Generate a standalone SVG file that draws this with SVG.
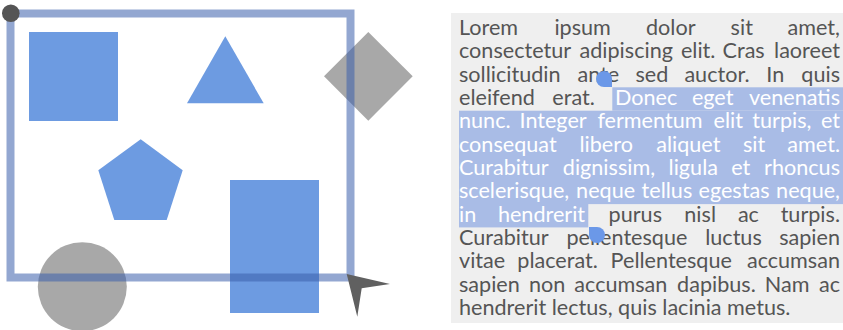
<svg xmlns="http://www.w3.org/2000/svg" width="843" height="330" viewBox="0 0 843 330">
<style>
.blue{fill:#6d9be1}
.gray{fill:#a8a8a8}
.t text{font-family:Lato,"Noto Sans","Liberation Sans",sans-serif;font-size:21.6px;fill:#555555}
.t .s{fill:#ffffff}
.t .e{text-anchor:end}
.hl{fill:#a9bce6}
.handle{fill:#6b98e8}
</style>
<rect width="843" height="330" fill="#ffffff"/>
<g id="canvas">
  <rect id="square" class="blue" x="29" y="32" width="89" height="89"/>
  <polygon id="triangle" class="blue" points="225.3,36.3 187,103.3 263.7,103.3"/>
  <polygon id="diamond" class="gray" points="368.3,32 412.7,76.3 368.3,120.7 324,76.3"/>
  <polygon id="pentagon" class="blue" points="140.7,139.3 182.7,170.3 166.7,220 114.3,220 98.3,170.3"/>
  <rect id="tall-rect" class="blue" x="230" y="180" width="89" height="133"/>
  <circle id="circle" class="gray" cx="82.3" cy="286.7" r="44.5"/>
  <rect id="selection" x="10.5" y="13.5" width="340" height="264" fill="none" stroke="#3a5fab" stroke-opacity="0.55" stroke-width="8"/>
  <circle id="corner-dot" cx="10.8" cy="13.3" r="8.8" fill="#555555"/>
  <polygon id="cursor" points="346.7,274 390,284 361.7,288.3 357.3,316.7" fill="#606060"/>
</g>
<g id="textbox" class="t">
  <rect x="451" y="13" width="392" height="310" fill="#efefef"/>
  <g id="highlight">
    <rect class="hl" x="612.3" y="87.3" width="230.7" height="23.4"/>
    <rect class="hl" x="459" y="110.7" width="384" height="93.4"/>
    <rect class="hl" x="459" y="204" width="129.3" height="23.4"/>
  </g>
  <g id="line1">
    <text x="459" y="35">Lorem</text><text x="554.4" y="35">ipsum</text><text x="646" y="35">dolor</text><text x="730.6" y="35">sit</text><text class="e" x="840" y="35">amet,</text>
  </g>
  <g id="line2">
    <text x="459" y="58.3">consectetur</text><text x="579.5" y="58.3">adipiscing</text><text x="680.9" y="58.3">elit.</text><text x="722.6" y="58.3">Cras</text><text class="e" x="840" y="58.3">laoreet</text>
  </g>
  <g id="line3">
    <text x="459" y="81.7">sollicitudin</text><text x="577.5" y="81.7">ante</text><text x="635.5" y="81.7">sed</text><text x="684.4" y="81.7">auctor.</text><text x="766.3" y="81.7">In</text><text class="e" x="840" y="81.7">quis</text>
  </g>
  <g id="line4">
    <text x="459" y="105">eleifend</text><text x="552.3" y="105">erat.</text><text class="s" x="615" y="105">Donec</text><text class="s" x="691.9" y="105">eget</text><text class="s e" x="840" y="105">venenatis</text>
  </g>
  <g id="line5">
    <text class="s" x="459" y="128.3">nunc.</text><text class="s" x="519.5" y="128.3">Integer</text><text class="s" x="597.4" y="128.3">fermentum</text><text class="s" x="713.6" y="128.3">elit</text><text class="s" x="752.3" y="128.3">turpis,</text><text class="s e" x="840" y="128.3">et</text>
  </g>
  <g id="line6">
    <text class="s" x="459" y="151.7">consequat</text><text class="s" x="579.5" y="151.7">libero</text><text class="s" x="656.2" y="151.7">aliquet</text><text class="s" x="743" y="151.7">sit</text><text class="s e" x="840" y="151.7">amet.</text>
  </g>
  <g id="line7">
    <text class="s" x="459" y="175">Curabitur</text><text class="s" x="562.8" y="175">dignissim,</text><text class="s" x="668.6" y="175">ligula</text><text class="s" x="731.2" y="175">et</text><text class="s e" x="840" y="175">rhoncus</text>
  </g>
  <g id="line8">
    <text class="s" x="459" y="198.3">scelerisque,</text><text class="s" x="576.1" y="198.3">neque</text><text class="s" x="641.6" y="198.3">tellus</text><text class="s" x="698.5" y="198.3">egestas</text><text class="s e" x="840" y="198.3">neque,</text>
  </g>
  <g id="line9">
    <text class="s" x="459" y="221.7">in</text><text class="s" x="497.9" y="221.7">hendrerit</text><text x="608.6" y="221.7">purus</text><text x="684.3" y="221.7">nisl</text><text x="737.9" y="221.7">ac</text><text class="e" x="840" y="221.7">turpis.</text>
  </g>
  <g id="line10">
    <text x="459" y="245">Curabitur</text><text x="566.4" y="245">pellentesque</text><text x="705.2" y="245">luctus</text><text class="e" x="840" y="245">sapien</text>
  </g>
  <g id="line11">
    <text x="459" y="268.3">vitae</text><text x="517.3" y="268.3">placerat.</text><text x="610.6" y="268.3">Pellentesque</text><text class="e" x="840" y="268.3">accumsan</text>
  </g>
  <g id="line12">
    <text x="459" y="291.7">sapien</text><text x="528.9" y="291.7">non</text><text x="574.3" y="291.7">accumsan</text><text x="677.1" y="291.7">dapibus.</text><text x="764.8" y="291.7">Nam</text><text class="e" x="840" y="291.7">ac</text>
  </g>
  <g id="line13">
    <text x="459" y="315">hendrerit lectus, quis lacinia metus.</text>
  </g>
  <path id="handle-start" class="handle" d="M612 87 L604 87 A8 8 0 1 1 612 79 Z"/>
  <path id="handle-end" class="handle" d="M589 227 L597 227 A8 8 0 1 1 589 235 Z"/>
</g>
<g id="connectors"/>
</svg>
